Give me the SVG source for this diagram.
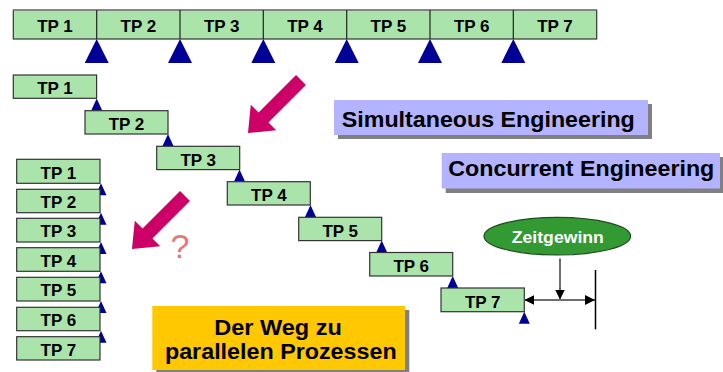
<svg xmlns="http://www.w3.org/2000/svg" width="723" height="372" viewBox="0 0 723 372">
  <style>
    .tp { fill: #abe4ab; stroke: #333; stroke-width: 1.2; }
    .tpl { font-family: "Liberation Sans", Arial, sans-serif; font-weight: bold; font-size: 17px; fill: #000; text-anchor: middle; }
    .ms { fill: #000096; }
    .big { font-family: "Liberation Sans", Arial, sans-serif; font-weight: bold; font-size: 22px; fill: #000; text-anchor: middle; }
    .shadow { fill: #808080; }
    .pink { fill: #cc0066; }
    .gline { stroke: #6e6e6e; stroke-width: 2; fill: none; }
  </style>
  <defs>
    <polygon id="bigTri" points="0,0 12,24 -12,24"/>
    <polygon id="smallTri" points="0,0 5.5,12 -5.5,12"/>
    <polygon id="bigArrow" points="0,-7 53,-7 53,-18 75,0 53,18 53,7 0,7"/>
    <marker id="ah" viewBox="0 0 10 10" refX="10" refY="5" markerWidth="10" markerHeight="10" markerUnits="userSpaceOnUse" orient="auto">
      <path d="M0,0 L10,5 L0,10 z" fill="#000"/>
    </marker>
  </defs>

  <!-- sequential plan: one bar of seven work packages -->
  <g id="bar">
    <rect x="13.3" y="10" width="583.4" height="29" fill="#abe4ab" stroke="#333" stroke-width="1.2"/>
    <line x1="13.3" y1="10" x2="596.7" y2="10" stroke="#888" stroke-width="1.5"/>
    <g stroke="#222" stroke-width="1.2">
      <line x1="96.7" y1="10" x2="96.7" y2="39"/>
      <line x1="180" y1="10" x2="180" y2="39"/>
      <line x1="263.3" y1="10" x2="263.3" y2="39"/>
      <line x1="346.7" y1="10" x2="346.7" y2="39"/>
      <line x1="430" y1="10" x2="430" y2="39"/>
      <line x1="513.3" y1="10" x2="513.3" y2="39"/>
    </g>
    <text class="tpl" x="55" y="32.3">TP 1</text>
    <text class="tpl" x="138.3" y="32.3">TP 2</text>
    <text class="tpl" x="221.7" y="32.3">TP 3</text>
    <text class="tpl" x="305" y="32.3">TP 4</text>
    <text class="tpl" x="388.3" y="32.3">TP 5</text>
    <text class="tpl" x="471.7" y="32.3">TP 6</text>
    <text class="tpl" x="555" y="32.3">TP 7</text>
    <g class="ms">
      <use href="#bigTri" x="96.7" y="39"/>
      <use href="#bigTri" x="180" y="39"/>
      <use href="#bigTri" x="263.3" y="39"/>
      <use href="#bigTri" x="346.7" y="39"/>
      <use href="#bigTri" x="430" y="39"/>
      <use href="#bigTri" x="513.3" y="39"/>
    </g>
  </g>

  <!-- overlapping staircase -->
  <g id="stair">
    <g class="ms">
      <use href="#smallTri" x="96.7" y="98.5"/>
      <use href="#smallTri" x="168" y="134"/>
      <use href="#smallTri" x="239.5" y="169.5"/>
      <use href="#smallTri" x="310.5" y="205"/>
      <use href="#smallTri" x="381.7" y="240.5"/>
      <use href="#smallTri" x="452.7" y="276"/>
      <use href="#smallTri" x="524.3" y="311.7"/>
    </g>
    <g id="s1"><rect class="tp" x="13.3" y="75" width="83.3" height="23.3"/><text class="tpl" x="55" y="94.3">TP 1</text></g>
    <g id="s2"><rect class="tp" x="85" y="110.7" width="83" height="23.3"/><text class="tpl" x="126.5" y="130">TP 2</text></g>
    <g id="s3"><rect class="tp" x="156.7" y="146.3" width="83" height="23.3"/><text class="tpl" x="198.2" y="165.6">TP 3</text></g>
    <g id="s4"><rect class="tp" x="227.3" y="181.7" width="83" height="23.3"/><text class="tpl" x="268.8" y="201">TP 4</text></g>
    <g id="s5"><rect class="tp" x="298.7" y="217.3" width="83" height="23.3"/><text class="tpl" x="340.2" y="236.6">TP 5</text></g>
    <g id="s6"><rect class="tp" x="369.7" y="252.5" width="83" height="23.5"/><text class="tpl" x="411.2" y="272">TP 6</text></g>
    <g id="s7"><rect class="tp" x="441" y="288" width="83.3" height="23.7"/><text class="tpl" x="482.7" y="307.5">TP 7</text></g>
  </g>

  <!-- fully parallel stack -->
  <g id="stack">
    <g class="ms">
      <use href="#smallTri" x="101" y="183.3"/>
      <use href="#smallTri" x="101" y="212.7"/>
      <use href="#smallTri" x="101" y="242"/>
      <use href="#smallTri" x="101" y="271.3"/>
      <use href="#smallTri" x="101" y="301"/>
      <use href="#smallTri" x="101" y="330.7"/>
    </g>
    <g id="p1"><rect class="tp" x="16.7" y="159.3" width="83.3" height="24"/><text class="tpl" x="58.3" y="178.5">TP 1</text></g>
    <g id="p2"><rect class="tp" x="16.7" y="189.3" width="83.3" height="23.4"/><text class="tpl" x="58.3" y="208">TP 2</text></g>
    <g id="p3"><rect class="tp" x="16.7" y="218.3" width="83.3" height="23.7"/><text class="tpl" x="58.3" y="237.3">TP 3</text></g>
    <g id="p4"><rect class="tp" x="16.7" y="247.7" width="83.3" height="23.6"/><text class="tpl" x="58.3" y="266.6">TP 4</text></g>
    <g id="p5"><rect class="tp" x="16.7" y="277.3" width="83.3" height="23.7"/><text class="tpl" x="58.3" y="296.3">TP 5</text></g>
    <g id="p6"><rect class="tp" x="16.7" y="307.3" width="83.3" height="23.4"/><text class="tpl" x="58.3" y="326">TP 6</text></g>
    <g id="p7"><rect class="tp" x="16.7" y="336.7" width="83.3" height="23.3"/><text class="tpl" x="58.3" y="355.5">TP 7</text></g>
  </g>

  <!-- direction arrows -->
  <g id="arrows">
    <use href="#bigArrow" class="pink" transform="translate(301 80) rotate(135)"/>
    <use href="#bigArrow" class="pink" transform="translate(185 196) rotate(135)"/>
    <text x="180" y="258" font-family="Liberation Sans, Arial, sans-serif" font-size="34" fill="#e87878" text-anchor="middle">?</text>
  </g>

  <!-- labels -->
  <g id="simultaneous">
    <rect class="shadow" x="338" y="104" width="314" height="35"/>
    <rect x="334" y="100" width="314" height="35" fill="#b3b3ff"/>
    <text class="big" x="488.3" y="126.5" textLength="293" lengthAdjust="spacingAndGlyphs">Simultaneous Engineering</text>
  </g>
  <g id="concurrent">
    <rect class="shadow" x="445.7" y="157" width="278" height="36"/>
    <rect x="441.7" y="153" width="278.3" height="35.5" fill="#b3b3ff"/>
    <text class="big" x="581.3" y="175.5" textLength="266" lengthAdjust="spacingAndGlyphs">Concurrent Engineering</text>
  </g>
  <g id="weg">
    <rect class="shadow" x="156.3" y="310" width="253" height="62"/>
    <rect x="152.3" y="306" width="252.7" height="64" fill="#ffc800"/>
    <text class="big" x="278" y="335" textLength="127.7" lengthAdjust="spacingAndGlyphs">Der Weg zu</text>
    <text class="big" x="280.8" y="358.5" textLength="231.7" lengthAdjust="spacingAndGlyphs">parallelen Prozessen</text>
  </g>

  <!-- time gain -->
  <g id="zeitgewinn">
    <ellipse cx="557.3" cy="236.2" rx="73.3" ry="18.8" fill="#339933" stroke="#1f4d1f" stroke-width="1.2"/>
    <text x="557.8" y="242.7" font-family="Liberation Sans, Arial, sans-serif" font-weight="bold" font-size="17" fill="#fff" text-anchor="middle" textLength="92" lengthAdjust="spacingAndGlyphs">Zeitgewinn</text>
  </g>
  <g id="connectors">
    <line class="gline" x1="560" y1="258.5" x2="560" y2="299.5" marker-end="url(#ah)"/>
    <line class="gline" x1="560" y1="300" x2="524.3" y2="300" marker-end="url(#ah)"/>
    <line class="gline" x1="560" y1="300" x2="595" y2="300" marker-end="url(#ah)"/>
    <line x1="595.5" y1="270" x2="595.5" y2="329.3" stroke="#000" stroke-width="1.5"/>
  </g>
</svg>
